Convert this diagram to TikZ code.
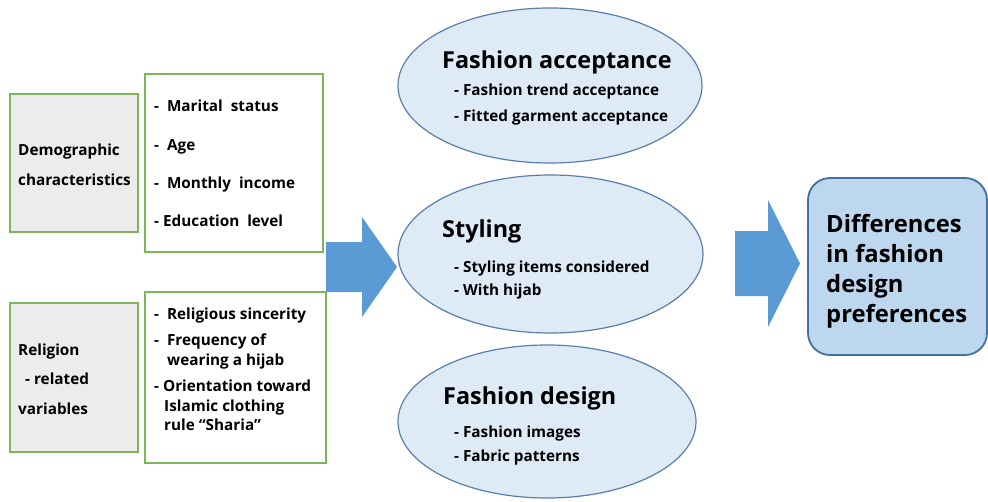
\documentclass[tikz,border=0pt]{standalone}
\usepackage{fontspec}
\setmainfont{Open Sans}
\usetikzlibrary{shapes.geometric}
\definecolor{framegreen}{HTML}{7FB55A}
\definecolor{graybg}{HTML}{EDECEC}
\definecolor{arrowblue}{HTML}{5B9BD5}
\definecolor{ovalfill}{HTML}{DEEBF7}
\definecolor{ovalline}{HTML}{5A7FA8}
\definecolor{resfill}{HTML}{BDD7EE}
\definecolor{resline}{HTML}{41719C}
\begin{document}
\begin{tikzpicture}[x=1pt,y=-1pt,
  graybox/.style={draw=framegreen, line width=1.4pt, fill=graybg, inner sep=0pt},
  listbox/.style={draw=framegreen, line width=1.4pt, fill=white, inner sep=0pt},
  oval/.style={ellipse, draw=ovalline, line width=1.2pt, fill=ovalfill, inner sep=0pt},
  resultbox/.style={draw=resline, line width=1.8pt, fill=resfill, rounded corners=22pt, inner sep=0pt},
  blockarrow/.style={fill=arrowblue},
  item/.style={font=\bfseries\fontsize{15.3}{18}\selectfont, anchor=base west, inner sep=0pt},
  label/.style={font=\bfseries\fontsize{15.3}{18}\selectfont, anchor=base west, inner sep=0pt},
  ovaltitle/.style={font=\bfseries\fontsize{23.4}{30}\selectfont, anchor=base west, inner sep=0pt},
  restext/.style={font=\bfseries\fontsize{23.8}{30}\selectfont, anchor=base west, inner sep=0pt}]
\useasboundingbox (0,0) rectangle (988,501);
\fill[white] (0,0) rectangle (988,501);

% left column: grey category boxes and their item lists
\node[graybox, minimum width=128pt, minimum height=138pt] (demo) at (74,163) {};
\node[listbox, minimum width=178pt, minimum height=178pt] (demolist) at (234,163) {};
\node[graybox, minimum width=128pt, minimum height=149pt] (relig) at (74,377.5) {};
\node[listbox, minimum width=181pt, minimum height=171pt] (religlist) at (235.5,377.5) {};

\node[label] at (18,155) {Demographic};
\node[label] at (18,185) {characteristics};

\node[item] at (154,111.5) {-\ \ Marital\ \ status};
\node[item] at (154,150.5) {-\ \ Age};
\node[item] at (154,188) {-\ \ Monthly\ \ income};
\node[item] at (154,226.5) {- Education\ \ level};

\node[label] at (18,355) {Religion};
\node[label] at (25,384) {- related};
\node[label] at (18,414) {variables};

\node[item] at (154,319) {-\ \ Religious sincerity};
\node[item] at (154,345.5) {-\ \ Frequency of};
\node[item] at (167,365) {wearing a hijab};
\node[item] at (154,391.5) {- Orientation toward};
\node[item] at (164,411) {Islamic clothing};
\node[item] at (164,430.5) {rule “Sharia”};

% middle column: three ovals
\node[oval, minimum width=304pt, minimum height=155pt] (accept) at (550,85.5) {};
\node[oval, minimum width=305pt, minimum height=158pt] (styling) at (550.5,254) {};
\node[oval, minimum width=298pt, minimum height=153pt] (design) at (547,421.5) {};

\node[ovaltitle] at (442,68) {Fashion acceptance};
\node[item] at (454,95) {- Fashion trend acceptance};
\node[item] at (454,121) {- Fitted garment acceptance};

\node[ovaltitle] at (442,237) {Styling};
\node[item] at (454,272) {- Styling items considered};
\node[item] at (454,295) {- With hijab};

\node[ovaltitle] at (443,404) {Fashion design};
\node[item] at (454,437) {- Fashion images};
\node[item] at (454,461) {- Fabric patterns};

% right column: outcome box
\node[resultbox, minimum width=179pt, minimum height=177pt] (result) at (897.5,266.5) {};
\node[restext] at (826,232) {Differences};
\node[restext] at (826,262) {in fashion};
\node[restext] at (826,292) {design};
\node[restext] at (826,322) {preferences};

% block arrows
\fill[blockarrow] (326,242) -- (362,242) -- (362,217) -- (397,267) -- (362,317)
  -- (362,292) -- (326,292) -- cycle;
\fill[blockarrow] (735,231) -- (768,231) -- (768,200) -- (800,263.5) -- (768,327)
  -- (768,296) -- (735,296) -- cycle;
\end{tikzpicture}
\end{document}
